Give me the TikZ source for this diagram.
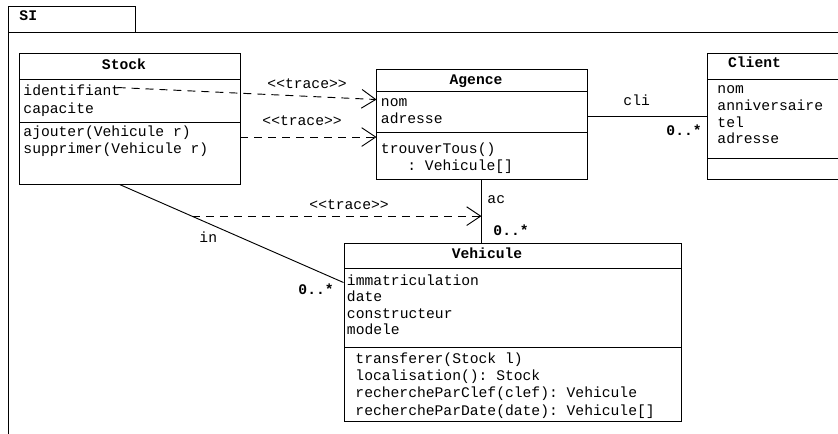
\documentclass[tikz,border=0pt]{standalone}
\usepackage{fontspec}
\setmonofont{Liberation Mono}
\usetikzlibrary{arrows.meta, positioning, calc, fit}

\begin{document}
\begin{tikzpicture}[
    x=0.75pt, y=-0.75pt,
    line width=0.7pt,
    cls/.style={draw, inner sep=0pt, line width=0.7pt},
    txt/.style={font=\ttfamily\fontsize{11}{12.5}\selectfont, inner sep=0pt,
                align=left, anchor=base west},
    wide/.style={font=\ttfamily\fontsize{11}{13}\selectfont},
    ttl/.style={font=\ttfamily\bfseries\fontsize{11}{12.5}\selectfont,
                inner sep=0pt, anchor=base},
    mult/.style={font=\ttfamily\bfseries\fontsize{11}{12.5}\selectfont,
                 inner sep=0pt, anchor=base west},
    trace/.style={dash pattern=on 6pt off 4.5pt,
                  -{Straight Barb[length=10.5pt, width=14pt]}}
]
    \useasboundingbox (0,0) rectangle (838,434);
    \clip (0,0) rectangle (838,434);

    % package frame
    \node[cls, fit={(8,6) (135,32)}] (tab) {};
    \node[mult] (si) at (19,21) {SI};
    \node[cls, fit={(8,32) (870,470)}] (frame) {};

    % classes (multi-line texts sit on their last baseline)
    \node[cls, fit={(19,53) (240,184)}] (stock) {};
    \node[cls, fit={(376,69) (587,179)}] (agence) {};
    \node[cls, fit={(707,53) (870,179)}] (client) {};
    \node[cls, fit={(344,243) (681,421)}] (vehicule) {};

    \draw (19,79) -- (240,79) (19,122) -- (240,122);
    \draw (376,91) -- (587,91) (376,132) -- (587,132);
    \draw (707,79) -- (838,79) (707,158) -- (838,158);
    \draw (344,268) -- (681,268) (344,347) -- (681,347);

    \node[ttl] (stock-name) at (124,70) {Stock};
    \node[txt, wide] (stock-attr) at (23,113.3) {identifiant\\capacite};
    \node[txt, wide] (stock-ops) at (23,154) {ajouter(Vehicule r)\\supprimer(Vehicule r)};

    \node[ttl] (agence-name) at (476,85) {Agence};
    \node[txt] (agence-attr) at (380.5,123.3) {nom\\adresse};
    \node[txt, wide] (agence-ops) at (380.5,170.6) {trouverTous()\\\hphantom{xxx}: Vehicule[]};

    \node[ttl] (client-name) at (754.5,68) {Client};
    \node[txt] (client-attr) at (717,144) {nom\\anniversaire\\tel\\adresse};

    \node[ttl] (vehicule-name) at (487,258.3) {Vehicule};
    \node[txt, font=\ttfamily\fontsize{11}{12.3}\selectfont] (vehicule-attr) at (346.5,334.5) {immatriculation\\date\\constructeur\\modele};
    \node[txt, wide] (vehicule-ops) at (355,415) {transferer(Stock l)\\localisation(): Stock\\rechercheParClef(clef): Vehicule\\rechercheParDate(date): Vehicule[]};

    % associations
    \coordinate (stock-foot) at ($(stock.south)+(-10,0)$);
    \coordinate (vehicule-head) at ($(vehicule.north west)+(0,40)$);
    \draw (stock-foot) -- coordinate[pos=0.323] (in-mid) (vehicule-head);
    \draw (agence.south) -- coordinate[pos=0.58] (ac-mid) (agence.south |- vehicule.north);
    \draw (agence.east |- client.west) -- (client.west);

    \node[txt] (cli-lbl) at (623,105.7) {cli};
    \node[mult] (cli-mult) at (666,135.5) {0..*};
    \node[txt] (ac-lbl) at (487,204) {ac};
    \node[mult] (ac-mult) at (493,236) {0..*};
    \node[txt] (in-lbl) at (199,243) {in};
    \node[mult] (in-mult) at (298,295) {0..*};

    % traces
    \draw[trace] ($(stock.north west)+(99,35)$) -- ($(agence.north west)+(1,31)$);
    \draw[trace] ($(stock.north east)+(0,84.5)$) -- ($(agence.north west)+(1,68.5)$);
    \draw[trace] (in-mid) -- (in-mid -| agence.south);

    \node[txt] (trace-a) at (267,89) {<<trace>>};
    \node[txt] (trace-b) at (262,126) {<<trace>>};
    \node[txt] (trace-c) at (309,210) {<<trace>>};
\end{tikzpicture}
\end{document}
